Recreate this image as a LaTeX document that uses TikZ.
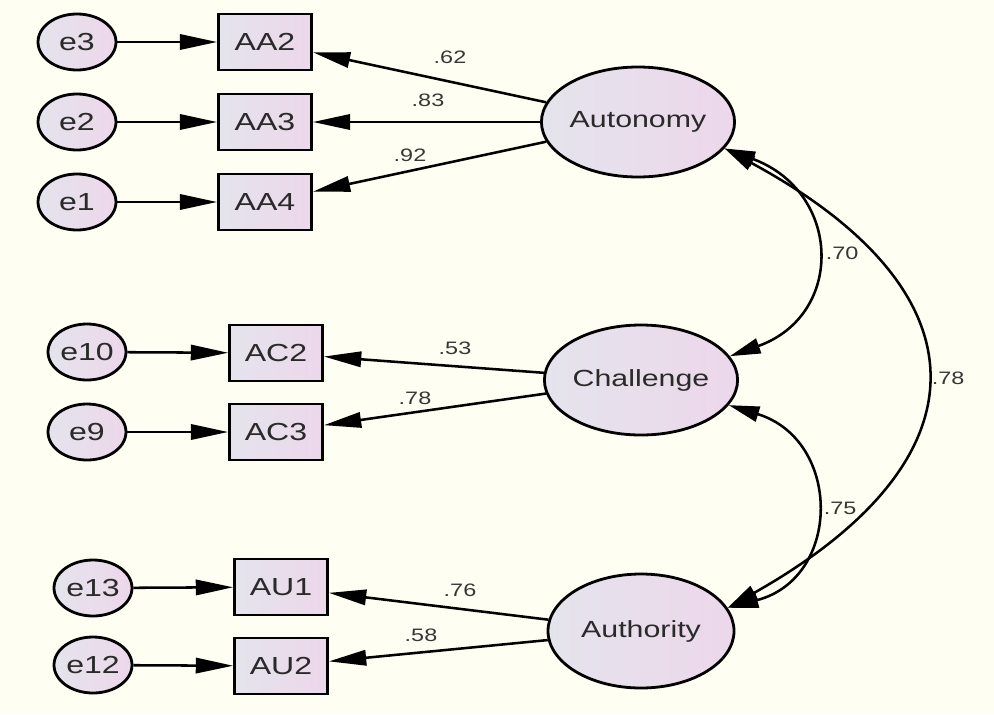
\documentclass[tikz,border=0pt]{standalone}
\usepackage{fontspec}
\newfontfamily\semfont{Liberation Sans}[FakeStretch=1.3]
\usetikzlibrary{arrows.meta,shapes.geometric}
\definecolor{paper}{HTML}{FEFEF2}
\definecolor{fillL}{HTML}{E4E4EC}
\definecolor{fillR}{HTML}{EDD7EB}
\definecolor{ink}{HTML}{2A2A2A}
\definecolor{numink}{HTML}{363636}

\begin{document}
\begin{tikzpicture}[x=0.75pt,y=-0.75pt,
  shaded/.style={draw=black, line width=2.1pt, left color=fillL, right color=fillR, text=ink, inner sep=0pt},
  obsbox/.style={shaded, rectangle, minimum width=69.75pt, minimum height=42pt,
    font=\semfont\fontsize{18.5}{20}\selectfont},
  errnode/.style={shaded, ellipse, minimum width=58.5pt, minimum height=42pt,
    font=\semfont\fontsize{18.5}{20}\selectfont},
  latent/.style={shaded, ellipse, minimum width=139.5pt, minimum height=82.5pt,
    font=\semfont\fontsize{17.5}{19}\selectfont},
  coef/.style={font=\semfont\fontsize{13.5}{15}\selectfont, text=numink, inner sep=0pt},
  regpath/.style={line width=1.9pt, -{Triangle[length=28pt,width=11.5pt]}},
  covpath/.style={line width=1.9pt, {Triangle[length=23pt,width=11.5pt]}-{Triangle[length=23pt,width=11.5pt]}}
]
% canvas
\fill[paper] (0,0) rectangle (994,714);
\useasboundingbox (0,0) rectangle (994,714);

% latent factors
\node[latent] (Aut) at (638,122) {Autonomy};
\node[latent] (Cha) at (641,380) {Challenge};
\node[latent, minimum height=85.5pt] (Ath) at (641,631) {Authority};

% observed indicators
\node[obsbox] (AA2) at (265,42) {AA2};
\node[obsbox] (AA3) at (265,122) {AA3};
\node[obsbox] (AA4) at (265,202) {AA4};
\node[obsbox] (AC2) at (276,353) {AC2};
\node[obsbox] (AC3) at (276,432) {AC3};
\node[obsbox] (AU1) at (281,587) {AU1};
\node[obsbox] (AU2) at (281,666) {AU2};

% error terms
\node[errnode] (e3) at (77,42) {e3};
\node[errnode] (e2) at (77,122) {e2};
\node[errnode] (e1) at (77,202) {e1};
\node[errnode] (e10) at (87,352) {e10};
\node[errnode] (e9) at (87,432) {e9};
\node[errnode] (e13) at (93,588) {e13};
\node[errnode] (e12) at (93,665) {e12};

% error -> indicator
\draw[regpath] (e3) -- (AA2);
\draw[regpath] (e2) -- (AA3);
\draw[regpath] (e1) -- (AA4);
\draw[regpath] (e10) -- (AC2);
\draw[regpath] (e9) -- (AC3);
\draw[regpath] (e13) -- (AU1);
\draw[regpath] (e12) -- (AU2);

% factor loadings
\draw[regpath] (Aut) -- (AA2);
\draw[regpath] (Aut) -- (AA3);
\draw[regpath] (Aut) -- (AA4);
\draw[regpath] (Cha) -- (AC2);
\draw[regpath] (Cha) -- (AC3);
\draw[regpath] (Ath) -- (AU1);
\draw[regpath] (Ath) -- (AU2);

% factor covariances
\draw[covpath] (Aut.-17) .. controls (842,192) and (845,315) .. (Cha.15);
\draw[covpath] (Cha.-16) .. controls (842,440) and (842,578) .. (Ath.15);
\draw[covpath] (Aut.-17) .. controls (990,292) and (990,460) .. (Ath.15);

% estimates
\node[coef] (l1) at (450,57) {.62};
\node[coef] (l2) at (428,100) {.83};
\node[coef] (l3) at (410,155) {.92};
\node[coef] (l4) at (455,348) {.53};
\node[coef] (l5) at (415,398) {.78};
\node[coef] (l6) at (460,590) {.76};
\node[coef] (l7) at (421,635) {.58};
\node[coef] (c1) at (842,253) {.70};
\node[coef] (c2) at (948,378) {.78};
\node[coef] (c3) at (840,508) {.75};
\end{tikzpicture}
\end{document}
